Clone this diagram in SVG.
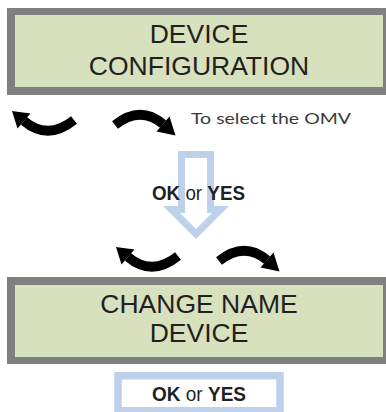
<svg xmlns="http://www.w3.org/2000/svg" xmlns:xlink="http://www.w3.org/1999/xlink" width="386" height="412" viewBox="0 0 386 412">
<style>
.frame{fill:#808080}
.screen{fill:#d7e1bd}
.lcd{font-family:"Liberation Sans",Arial,sans-serif;font-size:26.5px;fill:#231f20;text-anchor:middle}
.ok{font-family:"Liberation Sans",Arial,sans-serif;font-size:20px;fill:#231f20}
.b{font-weight:bold}
.l{font-weight:normal}
.note{font-family:"Lato","Liberation Sans",sans-serif;font-size:15px;fill:#3a3a3a}
.blue{fill:#bdd1ea}
.curve{fill:none;stroke:#000;stroke-width:9.5}
</style>
<defs>
<g id="arrowLeft">
<path class="curve" d="M24,121 Q48,141 74,120"/>
<polygon points="12,111 30.5,113.5 17.5,128.5"/>
</g>
<g id="arrowRight">
<path class="curve" d="M115,125 Q140,105 163,124"/>
<polygon points="175.5,135.5 156.5,131.5 169.5,116.5"/>
</g>
</defs>
<rect width="386" height="412" fill="#fff"/>
<g id="node-device-configuration">
<rect class="frame" x="7" y="8" width="379" height="87"/>
<rect class="screen" x="15" y="15" width="368" height="72"/>
<text class="lcd" x="199" y="43">DEVICE</text>
<text class="lcd" x="199" y="75">CONFIGURATION</text>
</g>
<g id="connectors">
<use xlink:href="#arrowLeft"/>
<use xlink:href="#arrowRight"/>
<path class="blue" fill-rule="evenodd" d="M178,151 H214 V206 H229 L196,239 L163,206 H178 Z M185,158 V213 H180 L196,229 L212,213 H207 V158 Z"/>
<use xlink:href="#arrowLeft" transform="translate(104,136)"/>
<use xlink:href="#arrowRight" transform="translate(104,136)"/>
</g>
<text class="note" x="191" y="124" textLength="160" lengthAdjust="spacingAndGlyphs">To select the OMV</text>
<text class="ok" x="152" y="200" textLength="93" lengthAdjust="spacingAndGlyphs"><tspan class="b">OK</tspan><tspan class="l"> or </tspan><tspan class="b">YES</tspan></text>
<g id="node-change-name-device">
<rect class="frame" x="7" y="277" width="379" height="87"/>
<rect class="screen" x="15" y="285" width="368" height="72"/>
<text class="lcd" x="199" y="313">CHANGE NAME</text>
<text class="lcd" x="199" y="342">DEVICE</text>
</g>
<g id="node-ok-or-yes">
<rect x="118" y="375.75" width="162" height="35" fill="#fff" stroke="#bdd1ea" stroke-width="7.5"/>
<text class="ok" x="152" y="401" textLength="94" lengthAdjust="spacingAndGlyphs"><tspan class="b">OK</tspan><tspan class="l"> or </tspan><tspan class="b">YES</tspan></text>
</g>
</svg>
